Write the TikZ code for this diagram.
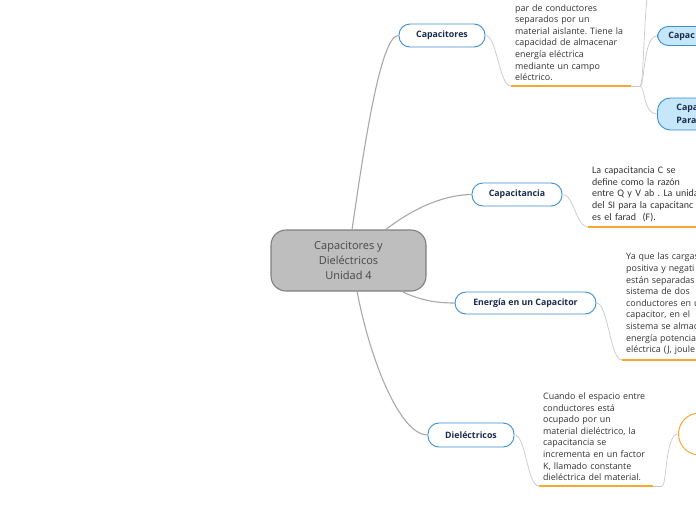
\documentclass[tikz,border=0pt]{standalone}
\usepackage{fontspec}
\setmainfont{Open Sans}
\newfontfamily\calfont{Carlito}
\usepackage{xcolor}
\frenchspacing

\definecolor{navy}{HTML}{1B2B4B}
\definecolor{topicblue}{HTML}{3A8ED4}
\definecolor{paleblue}{HTML}{C6E6FA}
\definecolor{rootgray}{HTML}{BEBEBE}
\definecolor{rootedge}{HTML}{7F7F7F}
\definecolor{linegray}{HTML}{A8A8A8}
\definecolor{twiggray}{HTML}{C8C8C8}
\definecolor{noteorange}{HTML}{F7A831}
\definecolor{notegray}{HTML}{333333}

\begin{document}
\begin{tikzpicture}[x=1pt,y=-1pt,
  topic/.style={draw=topicblue, line width=0.9pt, fill=white, rounded corners=11pt,
    minimum height=23pt, text=navy, font=\fontsize{8.8}{10}\selectfont\bfseries},
  subtopic/.style={topic, fill=paleblue, anchor=west, align=left},
  note/.style={anchor=south west, align=left, inner xsep=4pt, inner ysep=5pt,
    text=notegray, font=\fontsize{8.9}{11.6}\selectfont},
  branch/.style={draw=linegray, line width=1.1pt},
  twig/.style={draw=twiggray, line width=0.7pt},
  uline/.style={draw=noteorange, line width=1.3pt}]
  \useasboundingbox (0,0) rectangle (696,520);
  \clip (0,0) rectangle (696,520);

  % central topic
  \node[draw=rootedge, line width=1.1pt, fill=rootgray, rounded corners=15pt,
    minimum width=155pt, minimum height=61pt, align=center, text=black!72,
    font=\fontsize{11}{15}\selectfont] (root) at (348.5,260.5)
    {Capacitores y\\Dieléctricos\\Unidad 4};

  % main topics
  \node[topic, minimum width=86pt] (cap) at (442,35.5) {Capacitores};
  \node[topic, minimum width=90pt] (capa) at (517,194.5) {Capacitancia};
  \node[topic, minimum width=141pt, minimum height=22pt] (energ) at (525.5,303) {Energía en un Capacitor};
  \node[topic, minimum width=86pt, minimum height=24pt] (diel) at (471,435) {Dieléctricos};

  % notes
  \node[note, text width=112pt] (capnote) at (511,86)
    {par de conductores\\separados por un\\material aislante. Tiene la\\capacidad de almacenar\\energía eléctrica\\mediante un campo\\eléctrico.};
  \node[note, text width=120pt, font=\calfont\fontsize{10}{11.8}\selectfont] (capanote) at (588,227)
    {La capacitancia C se\\define como la razón\\entre Q y V ab . La unida\\del SI para la capacitanc\\es el farad\ \ (F).};
  \node[note, text width=100pt] (energnote) at (622,360)
    {Ya que las cargas\\positiva y negati\\están separadas\\sistema de dos\\conductores en u\\capacitor, en el\\sistema se almac\\energía potencia\\eléctrica (J, joule};
  \node[note, text width=106pt] (dielnote) at (539,486)
    {Cuando el espacio entre\\conductores está\\ocupado por un\\material dieléctrico, la\\capacitancia se\\incrementa en un factor\\K, llamado constante\\dieléctrica del material.};

  % sub topics
  \node[subtopic, text width=60pt, inner xsep=11pt, minimum height=19pt] (capserie) at (657,36) {Capac};
  \node[subtopic, text width=60pt, inner xsep=19pt, minimum height=32pt,
    rounded corners=13pt, font=\fontsize{8.8}{12.5}\selectfont\bfseries] (cappar) at (657,114) {Capa\\Para};
  \node[draw=noteorange, line width=1pt, fill=white, rounded corners=21pt,
    minimum width=70pt, minimum height=42pt, anchor=west] (dielsub) at (678,434) {};
  \coordinate (captop) at (657,-40);
  \coordinate (capfork) at (640,86);
  \coordinate (dielfork) at (662,486);

  % branches
  \draw[branch] (352,230) .. controls (365,140) and (381,35) .. (cap.west);
  \draw[branch] (385,230) .. controls (410,211) and (440,195) .. (capa.west);
  \draw[branch] (403,292) .. controls (420,300) and (435,303) .. (energ.west);
  \draw[branch] (357,291) .. controls (370,360) and (400,435) .. (diel.west);

  % twigs to notes
  \draw[twig] (cap.east) .. controls (497,35.5) and (499,86) .. (capnote.south west);
  \draw[twig] (capa.east) .. controls (574,194.5) and (576,227) .. (capanote.south west);
  \draw[twig] (energ.east) .. controls (608,303) and (610,360) .. (energnote.south west);
  \draw[twig] (diel.east) .. controls (526,435) and (527,486) .. (dielnote.south west);
  \draw[twig] (capnote.south east) -- (capfork);
  \draw[twig] (dielnote.south east) -- (dielfork);
  \draw[twig] (capfork) .. controls (645,86) and (643,-40) .. (captop);
  \draw[twig] (capfork) .. controls (645,86) and (643,36) .. (capserie.west);
  \draw[twig] (capfork) .. controls (645,86) and (643,114) .. (cappar.west);
  \draw[twig] (dielfork) .. controls (667,486) and (665,434) .. (dielsub.west);

  % orange underlines
  \draw[uline] (capnote.south west) -- (capnote.south east);
  \draw[uline] (capanote.south west) -- (capanote.south east);
  \draw[uline] (energnote.south west) -- (energnote.south east);
  \draw[uline] (dielnote.south west) -- (dielnote.south east);
\end{tikzpicture}
\end{document}
